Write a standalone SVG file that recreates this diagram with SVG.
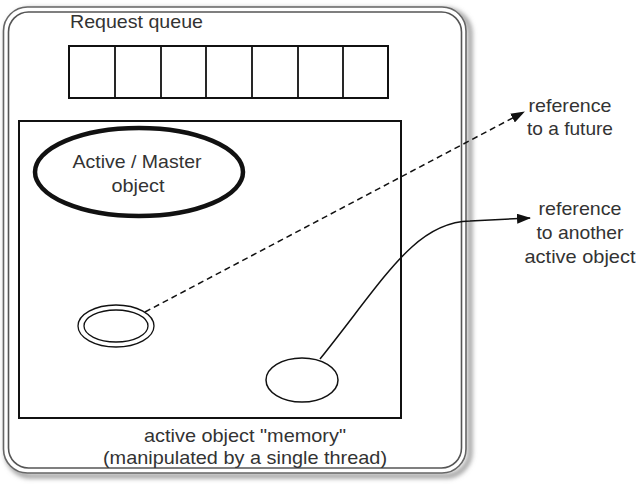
<svg xmlns="http://www.w3.org/2000/svg" width="640" height="485" viewBox="0 0 640 485">
<style>
text{font-family:"Liberation Sans",Arial,sans-serif;fill:#333;font-size:19px}
.c{text-anchor:middle}
.ln{fill:none;stroke:#111}
.fr{fill:none;stroke:#555;stroke-width:1.6}
</style>
<defs>
<marker id="ah" viewBox="0 0 14 10" refX="13" refY="5" markerWidth="14" markerHeight="10" markerUnits="userSpaceOnUse" orient="auto">
<path d="M0,0 L14,5 L0,10 z" fill="#111"/>
</marker>
<filter id="sh" x="-5%" y="-5%" width="110%" height="110%">
<feGaussianBlur stdDeviation="2.5"/>
</filter>
</defs>
<rect x="7" y="10" width="463" height="466" rx="24" fill="none" stroke="#888" stroke-width="4" filter="url(#sh)"/>
<g id="frame">
<rect x="3.5" y="7" width="462.5" height="466" rx="24" fill="#fff" stroke="#666" stroke-width="1.6"/>
<rect x="8.5" y="12" width="453" height="456" rx="20" class="fr"/>
</g>
<g id="queue">
<text x="70" y="28" textLength="133" lengthAdjust="spacingAndGlyphs">Request queue</text>
<rect x="69" y="46" width="319" height="52" class="ln" stroke-width="2"/>
<path d="M115,46V98M161,46V98M206,46V98M252,46V98M298,46V98M343,46V98" class="ln" stroke-width="1.8"/>
</g>
<g id="memory">
<rect x="19" y="121" width="382" height="297" class="ln" stroke-width="2"/>
<text x="245" y="442" class="c" textLength="202" lengthAdjust="spacingAndGlyphs">active object "memory"</text>
<text x="245" y="464" class="c" textLength="284" lengthAdjust="spacingAndGlyphs">(manipulated by a single thread)</text>
</g>
<g id="master">
<ellipse cx="139" cy="172" rx="104" ry="44" class="ln" stroke-width="4.5"/>
<text x="137" y="168" class="c" textLength="129" lengthAdjust="spacingAndGlyphs">Active / Master</text>
<text x="138" y="192" class="c" textLength="53" lengthAdjust="spacingAndGlyphs">object</text>
</g>
<g id="future-ref">
<ellipse cx="116" cy="326" rx="38" ry="21" class="ln" stroke-width="1.3"/>
<ellipse cx="116" cy="326" rx="32" ry="16" class="ln" stroke-width="1.3"/>
</g>
<g id="object-ref">
<ellipse cx="302" cy="380" rx="36" ry="22" class="ln" stroke-width="1.5"/>
</g>
<g id="label-future">
<text x="570" y="112" class="c" textLength="83" lengthAdjust="spacingAndGlyphs">reference</text>
<text x="570" y="135" class="c" textLength="86" lengthAdjust="spacingAndGlyphs">to a future</text>
</g>
<g id="label-active">
<text x="580" y="215" class="c" textLength="83" lengthAdjust="spacingAndGlyphs">reference</text>
<text x="580" y="239" class="c" textLength="87" lengthAdjust="spacingAndGlyphs">to another</text>
<text x="580" y="263" class="c" textLength="111" lengthAdjust="spacingAndGlyphs">active object</text>
</g>
<g id="connectors">
<path d="M145,312 L524,112" class="ln" stroke-width="1.5" stroke-dasharray="6,4" marker-end="url(#ah)"/>
<path d="M320,359 C385,278 415,222 470,221 L530,218" class="ln" stroke-width="1.5" marker-end="url(#ah)"/>
</g>
</svg>
